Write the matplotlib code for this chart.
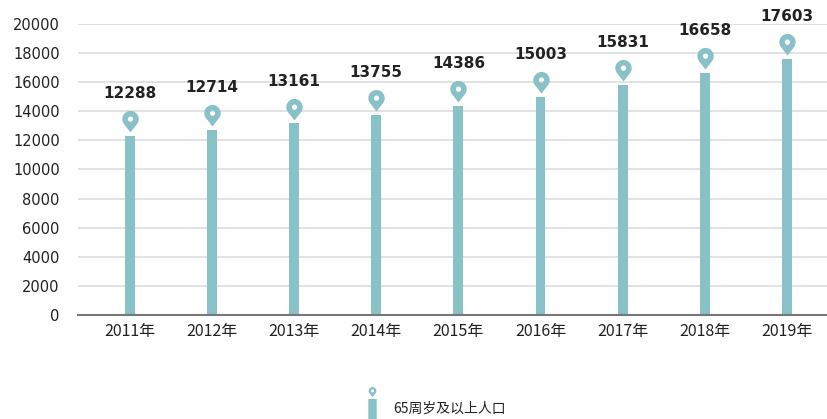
import numpy as np
import matplotlib
matplotlib.use("Agg")
import matplotlib.pyplot as plt
from matplotlib.path import Path
from matplotlib.lines import Line2D

plt.rcParams['font.family'] = ['Noto Sans CJK SC', 'DejaVu Sans']

years = ["2011年", "2012年", "2013年", "2014年", "2015年", "2016年", "2017年", "2018年", "2019年"]
values = [12288, 12714, 13161, 13755, 14386, 15003, 15831, 16658, 17603]
series_name = "65周岁及以上人口"
yticks = [0, 2000, 4000, 6000, 8000, 10000, 12000, 14000, 16000, 18000, 20000]

teal = "#88c1c7"
textc = "#222222"


def ring(cx, cy, r, t1, t2, n=60):
    t = np.linspace(np.radians(t1), np.radians(t2), n)
    return np.column_stack([cx + r * np.cos(t), cy + r * np.sin(t)])


def pin_polys(cx, cy, r, tipy, hole_r):
    d = cy - tipy
    a = np.degrees(np.arccos(r / d))
    outer = ring(cx, cy, r, -90 + a, 270 - a)
    outer = np.vstack([outer, [[cx, tipy]]])
    inner = ring(cx, cy, hole_r, 360, 0)
    return outer, inner


def build_path(polys):
    verts, codes = [], []
    for p in polys:
        verts.extend(p.tolist())
        verts.append(p[0].tolist())
        codes.extend([Path.MOVETO] + [Path.LINETO] * (len(p) - 1) + [Path.CLOSEPOLY])
    return Path(np.array(verts), codes)


o, i = pin_polys(0, 1.63, 1.0, 0.0, 0.32)
pin_path = build_path([o, i])

# legend marker: pin above a bar
o2, i2 = pin_polys(0, 2.95, 0.65, 1.9, 0.25)
rect = np.array([[-0.7, -3.0], [0.7, -3.0], [0.7, 1.6], [-0.7, 1.6]])
leg_path = build_path([o2, i2, rect])

fig = plt.figure(figsize=(8.28, 4.19), dpi=100)
ax = fig.add_axes([0.094, 0.248, 0.906, 0.695])

x = np.arange(len(years))
ax.bar(x, values, width=0.12, color=teal, zorder=3)
ax.plot(x, [v + 270 for v in values], linestyle='none', marker=pin_path,
        markersize=31, color=teal, markeredgewidth=0, zorder=4)
for xi, v in zip(x, values):
    ax.annotate(f"{v}", (xi, v), xytext=(0, 25), textcoords='offset points',
                ha='center', va='bottom', fontsize=11, color=textc, fontweight='bold',
                family=['DejaVu Sans'])

ax.set_ylim(0, 20000)
ax.set_xlim(-0.633, 8.5)
ax.set_yticks(yticks)
ax.set_yticklabels([str(t) for t in yticks], fontsize=10.5, color=textc, family=['DejaVu Sans'])
ax.set_xticks(x)
ax.set_xticklabels(years, fontsize=11.5, color=textc)
ax.tick_params(axis='both', length=0)
ax.tick_params(axis='y', pad=13)
ax.tick_params(axis='x', pad=6)
ax.grid(axis='y', color='#dddddd', linewidth=1.2, zorder=0)
ax.set_axisbelow(True)
for s in ['top', 'right', 'left']:
    ax.spines[s].set_visible(False)
ax.spines['bottom'].set_color('#777777')
ax.spines['bottom'].set_linewidth(1.5)
ax.spines['bottom'].set_zorder(5)

handle = Line2D([], [], linestyle='none', marker=leg_path, markersize=31,
                color=teal, markeredgewidth=0)
fig.legend([handle], [series_name], loc='center', bbox_to_anchor=(0.522, 0.025),
           frameon=False, fontsize=10, handletextpad=0.5, labelcolor=textc)

fig.savefig("out.png", dpi=100, facecolor='white')
